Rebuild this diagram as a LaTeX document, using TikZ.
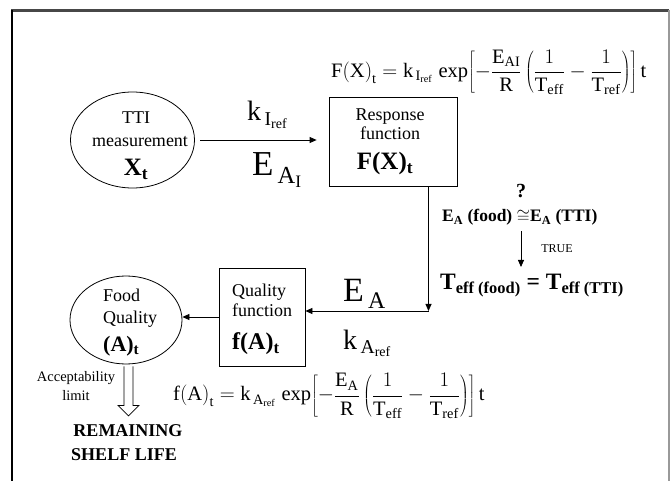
\documentclass[tikz,border=0pt]{standalone}
\usepackage{fontspec}
\setmainfont{Liberation Serif}
\usetikzlibrary{arrows.meta,shapes.geometric,calc}
\newcommand\fsz[1]{\fontsize{#1}{#1}\selectfont}
\newcommand\rmm[1]{\mathrm{#1}}
\begin{document}
\begin{tikzpicture}[x=1pt,y=-1pt,
  outline/.style={draw, line width=0.8pt, inner sep=0},
  arr/.style={-{Triangle[length=7pt,width=6pt]}, line width=0.8pt},
  txt/.style={inner sep=0, anchor=base, font=\fsz{18}},
  txl/.style={inner sep=0, anchor=base west, font=\fsz{18}},
  big/.style={inner sep=0, anchor=base west},
  eqn/.style={inner sep=0, anchor=west, font=\fsz{20.5}}]
\fill[white] (0,0) rectangle (670,481);
\useasboundingbox (0,0) rectangle (670,481);
% frame
\fill[black!72] (11,9) rectangle (669,12.5);
\fill[black] (11,10) rectangle (13,481);
\fill[black!40] (667.5,10) rectangle (669.5,481);

% TTI measurement
\node[outline, ellipse, minimum width=124, minimum height=96] (tti) at (132.5,140) {};
\node[txt] (ttiA) at (136,123.3) {TTI};
\node[txt] (ttiB) at (140,146.5) {measurement};
\node[txt, font=\fsz{25}\bfseries] (ttiC) at (136,175.5) {X\textsubscript{t}};

% Response function
\node[outline, minimum width=128, minimum height=89] (resp) at (393,141.5) {};
\node[txt] (respA) at (390,121) {Response};
\node[txt] (respB) at (390,140) {function};
\node[txt, font=\fsz{25}\bfseries] (respC) at (385,170) {F(X)\textsubscript{t}};

% Quality function
\node[outline, minimum width=86, minimum height=98] (qual) at (262,317) {};
\node[txl] (qualA) at (232,296.7) {Quality};
\node[txl] (qualB) at (232,317) {function};
\node[txl, font=\fsz{24}\bfseries] (qualC) at (232,350) {f(A)\textsubscript{t}};

% Food quality
\node[outline, ellipse, minimum width=112, minimum height=88] (food) at (126,320) {};
\node[txl] (foodA) at (103,301.7) {Food};
\node[txl] (foodB) at (103,324) {Quality};
\node[txl, font=\fsz{22}\bfseries] (foodC) at (103,351.7) {(A)\textsubscript{t}};

% connectors
\draw[arr, shorten <=5.5pt, shorten >=12pt] (tti.east) -- (tti.east -| resp.west);
\coordinate (corner) at (428.5,311);
\draw[arr] (resp.south -| corner) -- (corner);
\draw[arr] (corner) -- (corner -| qual.east);
\draw[arr] (qual.west) -- (qual.west -| food.east);

% labels on connectors
\node[big, font=\fsz{28}] (kI) at (247,121) {$\rmm{k}_{\,\rmm{I}_{\rmm{ref}}}$};
\node[big, font=\fsz{35}] (EI) at (252,176) {$\rmm{E}_{\,\rmm{A}_{\rmm{I}}}$};
\node[big, font=\fsz{34}] (EA) at (343,301.7) {$\rmm{E}_{\,\rmm{A}}$};
\node[big, font=\fsz{28}] (kA) at (343,349.3) {$\rmm{k}_{\,\rmm{A}_{\rmm{ref}}}$};

% condition
\node[txt, font=\fsz{20}\bfseries] (qm) at (521,198) {?};
\node[big, font=\fsz{17.5}\bfseries] (cond) at (442,222) {E\textsubscript{A} (food) $\cong$E\textsubscript{A} (TTI)};
\coordinate (trueTip) at (521,267);
\draw[arr] (521,231.5) -- (trueTip);
\node[txt, font=\fsz{12}] (true) at (557,253) {TRUE};
\node[big, font=\fsz{23.5}\bfseries] (teff) at (440,290) {T\textsubscript{eff (food)} = T\textsubscript{eff (TTI)}};

% equations
\node[eqn] (fx) at (331,72.5) {$\displaystyle \rmm{F}\bigl(\rmm{X}\bigr)_{\rmm{t}} = \rmm{k}_{\,\rmm{I}_{\rmm{ref}}}\;\rmm{exp}\!\left[-\frac{\rmm{E}_{\rmm{AI}}}{\rmm{R}}\left(\frac{1}{\rmm{T}_{\rmm{eff}}}-\frac{1}{\rmm{T}_{\rmm{ref}}}\right)\right]\rmm{t}$};
\node[eqn] (fa) at (173,396) {$\displaystyle \rmm{f}\bigl(\rmm{A}\bigr)_{\rmm{t}} = \rmm{k}_{\,\rmm{A}_{\rmm{ref}}}\;\rmm{exp}\!\left[-\frac{\rmm{E}_{\rmm{A}}}{\rmm{R}}\left(\frac{1}{\rmm{T}_{\rmm{eff}}}-\frac{1}{\rmm{T}_{\rmm{ref}}}\right)\right]\rmm{t}$};

% acceptability
\coordinate (hs) at (food.south);
\draw[line width=0.7pt] ($(hs)+(-2,2)$) -- ++(0,39) -- ++(-6,0) -- ++(10.5,10.5) -- ++(10.5,-10.5) -- ++(-6,0) -- ++(0,-39);
\node[txt, font=\fsz{14.5}] (acc1) at (76,381.5) {Acceptability};
\node[txt, font=\fsz{14.5}] (acc2) at (76,400) {limit};
\node[txt, font=\fsz{18}\bfseries] (rem1) at (128,436.7) {REMAINING};
\node[txt, font=\fsz{18}\bfseries] (rem2) at (124,460) {SHELF LIFE};
\end{tikzpicture}
\end{document}
